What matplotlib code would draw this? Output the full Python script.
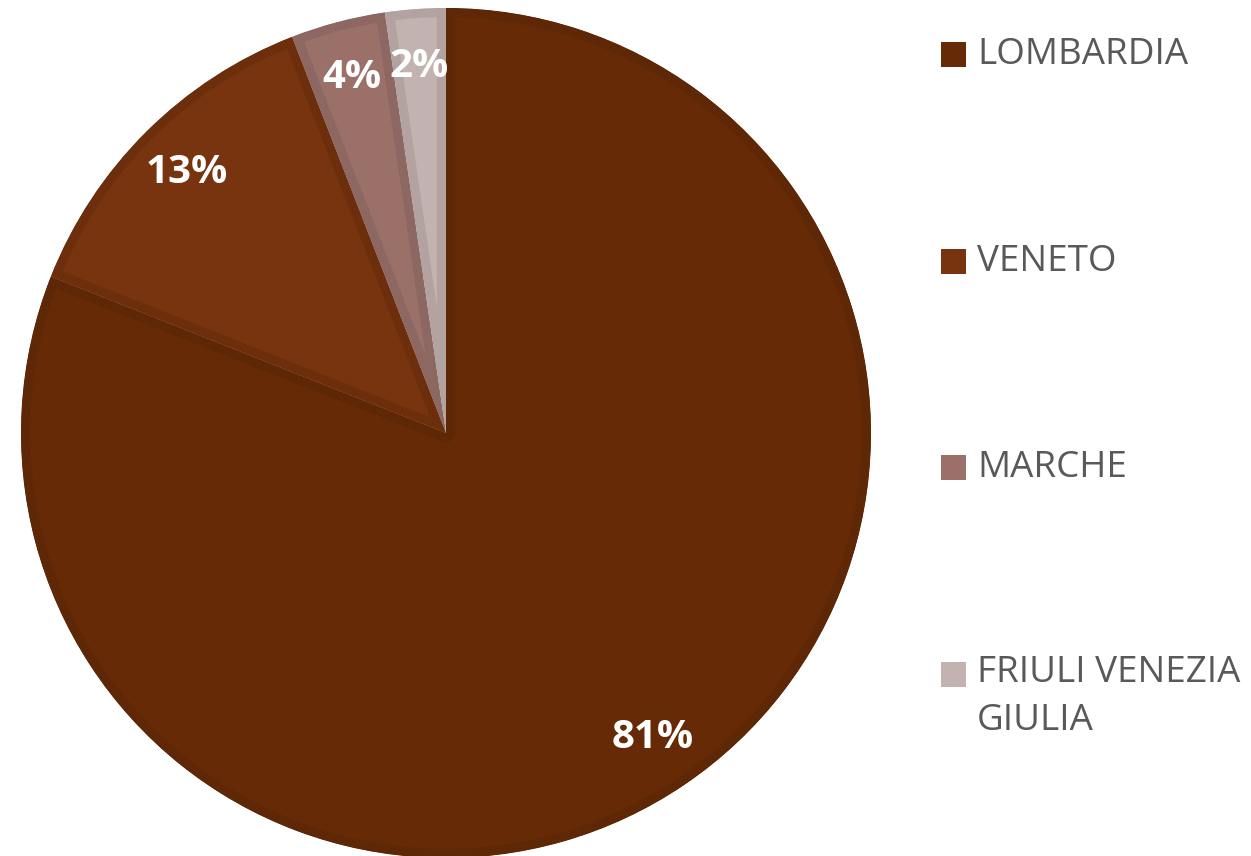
import matplotlib
matplotlib.use("Agg")
import matplotlib.pyplot as plt
from matplotlib.patches import Rectangle

regions = ["LOMBARDIA", "VENETO", "MARCHE", "FRIULI VENEZIA\nGIULIA"]
shares = [81.0, 13.1, 3.6, 2.3]
fill_colors = ["#662A06", "#78340F", "#9B7068", "#C3B3B0"]
edge_colors = ["#5E2705", "#6D2F0B", "#8D6761", "#B2A3A0"]

W, H = 1251, 856
fig = plt.figure(figsize=(W / 100, H / 100), dpi=100)
cx, cy, R = 446, 433, 425
ax = fig.add_axes([(cx - R) / W, (H - cy - R) / H, 2 * R / W, 2 * R / H])

wedges, texts, autotexts = ax.pie(
    shares, colors=fill_colors, startangle=90, counterclock=False,
    autopct="%1.0f%%", pctdistance=0.865, radius=1.0,
    textprops=dict(color="white", fontsize=29, fontweight="bold", family="Open Sans"),
)
for w, ec in zip(wedges, edge_colors):
    w.set_edgecolor(ec)
    w.set_linewidth(13)
    w.set_joinstyle("round")
    w.set_clip_on(True)
    w.set_clip_path(w)
ax.set_xlim(-1, 1)
ax.set_ylim(-1, 1)
ax.set_aspect("equal")
ax.axis("off")

# legend drawn manually
leg_y = [55, 262, 468, 675]
for name, col, y in zip(regions, fill_colors, leg_y):
    fig.patches.append(Rectangle((941 / W, 1 - (y + 12) / H), 25 / W, 25 / H,
                                 transform=fig.transFigure, facecolor=col, edgecolor="none"))
    fig.text(977 / W, 1 - y / H, name, ha="left", va="center" if "\n" not in name else "top",
             fontsize=26.5, color="#595959", family="Open Sans", linespacing=1.45)

# adjust multi-line label position
fig.texts[-1].set_position((977 / W, 1 - (675 - 20) / H))

fig.savefig("out.png", dpi=100)
